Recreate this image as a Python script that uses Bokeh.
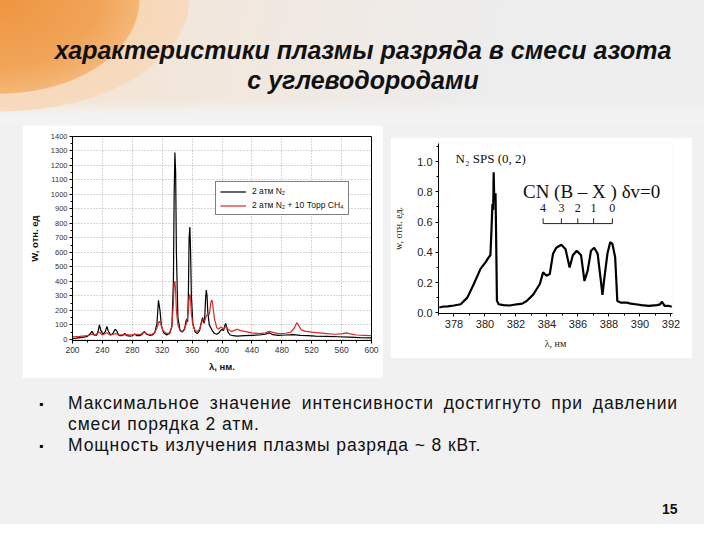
from bokeh.plotting import figure
from bokeh.models import (Div, Spacer, Legend, LegendItem, SingleIntervalTicker,
                          PrintfTickFormatter, Range1d, Label, ColumnDataSource)
from bokeh.layouts import column, row
from bokeh.core.properties import value
from bokeh.embed import file_html
from bokeh.resources import INLINE

# ---------------- data: left spectrum (200-600 nm) ----------------
n2_wl = [200, 205, 210, 215, 220, 223, 226, 229, 232, 234, 236, 238, 241, 244, 246, 248, 251, 254,
         257, 259, 262, 266, 270, 273, 277, 280, 283, 286, 290, 293, 296, 299, 303, 307, 310, 313,
         315, 317, 319, 322, 326, 330, 333, 335, 336, 337, 338, 339, 341, 344, 347, 350, 352, 353,
         354, 355, 356, 357, 358, 359, 361, 364, 367, 370, 372, 374, 375, 376, 377, 378, 379, 380,
         381, 383, 385, 387, 390, 393, 396, 398, 400, 402, 404, 405, 406, 408, 411, 415, 420, 430,
         440, 450, 458, 463, 468, 475, 485, 495, 505, 515, 525, 540, 555, 570, 585, 600]
n2_int = [5, 8, 12, 15, 20, 35, 55, 30, 28, 50, 100, 60, 35, 55, 90, 55, 30, 40,
          70, 60, 28, 25, 40, 25, 22, 25, 38, 25, 25, 35, 55, 35, 28, 30, 45, 110,
          270, 200, 90, 45, 30, 40, 90, 400, 1000, 1290, 1150, 600, 150, 60, 50, 70, 130, 140,
          120, 300, 700, 775, 600, 300, 110, 50, 40, 60, 110, 150, 130, 110, 160, 280, 340, 300,
          190, 100, 80, 60, 40, 35, 45, 60, 70, 60, 100, 110, 90, 50, 30, 25, 22, 25,
          28, 30, 35, 45, 32, 28, 30, 32, 28, 25, 22, 20, 18, 15, 12, 10]

mix_wl = [200, 210, 220, 226, 230, 236, 240, 246, 250, 258, 262, 270, 280, 284, 290, 296, 300,
          306, 310, 313, 316, 318, 321, 326, 330, 333, 335, 336, 337, 338, 339, 341, 344, 347,
          350, 353, 355, 356, 357, 358, 359, 361, 364, 367, 370, 373, 375, 377, 379, 381, 383,
          385, 386, 387, 388, 390, 393, 396, 398, 400, 402, 405, 408, 412, 416, 420, 425, 430,
          440, 450, 458, 463, 467, 475, 485, 492, 497, 500, 502, 506, 512, 520, 530, 540, 550,
          560, 566, 570, 580, 590, 600]
mix_int = [18, 20, 25, 35, 28, 50, 30, 45, 30, 40, 30, 32, 30, 35, 32, 50, 35,
           35, 45, 80, 125, 110, 60, 40, 45, 90, 250, 390, 400, 330, 200, 100, 60, 55,
           75, 120, 200, 290, 310, 270, 180, 100, 60, 55, 70, 120, 140, 130, 160, 180, 170,
           250, 270, 265, 220, 140, 80, 70, 85, 80, 70, 90, 70, 55, 60, 70, 60, 55,
           45, 40, 45, 55, 50, 40, 42, 50, 80, 115, 100, 65, 55, 50, 45, 40, 35,
           38, 45, 40, 30, 28, 25]

legend_labels = ["2 атм N₂", "2 атм N₂ + 10 Торр CH₄"]

# ---------------- data: right spectrum (377-392 nm) ----------------
cn_wl = [377.05, 377.26, 377.6, 378.0, 378.43, 378.86, 379.28, 379.71, 380.03, 380.24, 380.35,
         380.42, 380.48, 380.53, 380.56, 380.6, 380.64, 380.68, 380.72, 380.77, 380.88, 381.2,
         381.6, 382.05, 382.4, 382.69, 383.11, 383.54, 383.75, 383.97, 384.18, 384.39, 384.6,
         384.93, 385.2, 385.46, 385.67, 385.92, 386.2, 386.42, 386.63, 386.84, 387.05, 387.27,
         387.48, 387.58, 387.68, 387.9, 388.08, 388.22, 388.4, 388.54, 388.76, 389.18, 389.4,
         389.72, 390.1, 390.57, 391.1, 391.3, 391.42, 391.59, 391.89, 392.05]
cn_int = [0.035, 0.04, 0.042, 0.048, 0.056, 0.10, 0.19, 0.29, 0.333, 0.367, 0.38,
          0.55, 0.72, 0.68, 0.93, 0.74, 0.77, 0.79, 0.5, 0.08, 0.056, 0.05,
          0.048, 0.056, 0.06, 0.078, 0.12, 0.19, 0.267, 0.245, 0.256, 0.39, 0.43,
          0.45, 0.42, 0.30, 0.38, 0.41, 0.38, 0.21, 0.28, 0.41, 0.43, 0.39,
          0.21, 0.118, 0.21, 0.39, 0.467, 0.456, 0.367, 0.078, 0.067, 0.067, 0.06,
          0.056, 0.05, 0.045, 0.05, 0.055, 0.073, 0.045, 0.045, 0.04]

cn_labels = ["4", "3", "2", "1", "0"]
cn_pos = [383.75, 384.93, 385.99, 387.01, 388.22]

assert len(n2_wl) == len(n2_int)
assert len(mix_wl) == len(mix_int)
assert len(cn_wl) == len(cn_int)

SANS = "Liberation Sans"
SERIF = "Liberation Serif"

# ---------------- left figure ----------------
p1 = figure(width=361, height=253, output_backend="svg", toolbar_location=None,
            x_range=Range1d(200, 600), y_range=Range1d(-8, 1400),
            min_border_left=50, min_border_right=12, min_border_top=11, min_border_bottom=38,
            background_fill_color="white", border_fill_color="white",
            outline_line_color="black", outline_line_width=1)
p1.xaxis.ticker = SingleIntervalTicker(interval=40, num_minor_ticks=2)
p1.yaxis.ticker = SingleIntervalTicker(interval=100, num_minor_ticks=2)
for ax in (p1.xaxis[0], p1.yaxis[0]):
    ax.major_label_text_font = SANS
    ax.major_label_text_color = "#333333"
    ax.major_tick_out = 3
    ax.major_tick_in = 0
    ax.minor_tick_out = 2
    ax.minor_tick_in = 0
    ax.axis_line_color = "black"
    ax.axis_label_text_font = SANS
    ax.axis_label_text_font_style = "bold"
    ax.axis_label_text_color = "#111111"
    ax.axis_label_text_font_size = "9.5px"
p1.xaxis.major_label_text_font_size = "8.5px"
p1.yaxis.major_label_text_font_size = "7.5px"
p1.xaxis.major_label_standoff = 3
p1.yaxis.major_label_standoff = 2
p1.xaxis.axis_label = "λ, нм."
p1.yaxis.axis_label = "W, отн. ед"
p1.xaxis.axis_label_standoff = 5
p1.yaxis.axis_label_standoff = 8
p1.xgrid.ticker = SingleIntervalTicker(interval=40)
p1.ygrid.ticker = SingleIntervalTicker(interval=100)
for g in (p1.xgrid[0], p1.ygrid[0]):
    g.grid_line_color = "#9a9a9a"
    g.grid_line_dash = "1 2"
    g.grid_line_width = 0.8

r_n2 = p1.line(n2_wl, n2_int, line_color="black", line_width=1.2)
r_mix = p1.line(mix_wl, mix_int, line_color="#d42a2a", line_width=1.2)

legend = Legend(items=[LegendItem(label=legend_labels[0], renderers=[r_n2]),
                       LegendItem(label=legend_labels[1], renderers=[r_mix])],
                location=(143, 125), border_line_color="black", border_line_width=1,
                label_text_font=SANS, label_text_font_size="8.5px", label_text_color="#111",
                glyph_width=26, glyph_height=9, label_height=9, label_standoff=6,
                padding=4, spacing=4, margin=0, background_fill_color="white",
                background_fill_alpha=1)
p1.add_layout(legend, "center")

# ---------------- right figure ----------------
p2 = figure(width=302, height=221, output_backend="svg", toolbar_location=None,
            x_range=Range1d(377.0, 392.1), y_range=Range1d(-0.005, 1.12),
            min_border_left=48, min_border_right=20, min_border_top=6, min_border_bottom=45,
            background_fill_color="white", border_fill_color="white",
            outline_line_color=None)
p2.xgrid.visible = False
p2.ygrid.visible = False
p2.xaxis.ticker = SingleIntervalTicker(interval=2, num_minor_ticks=2)
p2.yaxis.ticker = SingleIntervalTicker(interval=0.2, num_minor_ticks=2)
p2.yaxis.formatter = PrintfTickFormatter(format="%.1f")
for ax in (p2.xaxis[0], p2.yaxis[0]):
    ax.major_label_text_font = SANS
    ax.major_label_text_font_size = "11px"
    ax.major_label_text_color = "#222222"
    ax.major_tick_out = 3
    ax.major_tick_in = 0
    ax.minor_tick_out = 2
    ax.minor_tick_in = 0
    ax.axis_line_color = "black"
    ax.axis_label_text_font = SERIF
    ax.axis_label_text_font_style = "normal"
    ax.axis_label_text_font_size = "10px"
    ax.axis_label_text_color = "#222222"
p2.xaxis.major_label_standoff = 3
p2.yaxis.major_label_standoff = 3
p2.xaxis.axis_label = "λ, нм"
p2.yaxis.axis_label = "w, отн. ед."
p2.xaxis.axis_label_standoff = 7
p2.yaxis.axis_label_standoff = 10

p2.line(cn_wl, cn_int, line_color="black", line_width=2.2)

p2.add_layout(Label(x=378.1, y=1.02, text="N₂  SPS (0, 2)", text_font=SERIF,
                    text_font_size="13px", text_color="#111", text_baseline="middle"))
p2.add_layout(Label(x=382.45, y=0.80, text="CN  (B – X ) δv=0", text_font=SERIF,
                    text_font_size="19px", text_color="#111", text_baseline="middle"))
cn_src = ColumnDataSource(dict(x=cn_pos, t=cn_labels))
p2.text(x="x", y=0.69, text="t", source=cn_src, text_font=value(SERIF),
        text_font_size="12px", text_align="center", text_baseline="middle", text_color="#111")
p2.segment(x0=cn_pos[0], y0=0.59, x1=cn_pos[-1], y1=0.59, line_color="#222", line_width=1)
p2.segment(x0="x", y0=0.59, x1="x", y1=0.625, source=cn_src, line_color="#222", line_width=1)

# ---------------- slide texts ----------------
FONT = "font-family:'Liberation Sans',Arial,sans-serif;"
header = Div(width=704, height=125, margin=0,
             styles={"background": "radial-gradient(ellipse 140px 94px at 0px 0px, #ee9540 0%, #f1a458 70%, #f4b676 99%, rgba(244,182,120,0) 100%),"
                                   "radial-gradient(ellipse 190px 112px at 0px 0px, #f6cda2 0%, #f7dbbf 99%, rgba(247,219,191,0) 100%),"
                                   "linear-gradient(180deg, rgba(241,241,241,0) 80%, #f3f3f3 92%),"
                                   "linear-gradient(100deg, #f5e2cf 0%, #f1e8df 35%, #ededed 70%)"},
             text="<div style=\"position:relative;width:704px;height:125px;\">"
                  "<div style=\"position:absolute;left:0;top:35px;width:726px;text-align:center;" + FONT +
                  "font-weight:bold;font-style:italic;font-size:25px;line-height:30px;color:#111;\">"
                  "характеристики плазмы разряда в смеси азота<br>с углеводородами</div></div>")

LINE = "font-size:17.5px;line-height:21px;letter-spacing:0.9px;color:#111;"
body = Div(width=704, height=146, margin=0,
           text="<div style=\"position:relative;width:704px;height:146px;" + FONT + "\">"
                "<div style=\"position:absolute;left:39px;top:16px;font-size:12px;line-height:21px;\">▪</div>"
                "<div style=\"position:absolute;left:68px;top:15px;width:610px;" + LINE +
                "text-align:justify;text-align-last:justify;white-space:nowrap;\">"
                "Максимальное значение интенсивности достигнуто при давлении</div>"
                "<div style=\"position:absolute;left:68px;top:36px;" + LINE + "\">смеси порядка 2 атм.</div>"
                "<div style=\"position:absolute;left:39px;top:58px;font-size:12px;line-height:21px;\">▪</div>"
                "<div style=\"position:absolute;left:68px;top:57px;" + LINE + "\">"
                "Мощность излучения плазмы разряда ~ 8 кВт.</div>"
                "<div style=\"position:absolute;left:662px;top:121px;font-size:14px;font-weight:bold;color:#111;\">15</div>"
                "</div>")

charts = row(Spacer(width=22, height=253), p1, Spacer(width=7, height=253),
             column(Spacer(width=302, height=12), p2), spacing=0)
page = column(header, charts, body, spacing=0, styles={"background-color": "#f1f1f1"})

open("out.html", "w").write(file_html(page, INLINE))
